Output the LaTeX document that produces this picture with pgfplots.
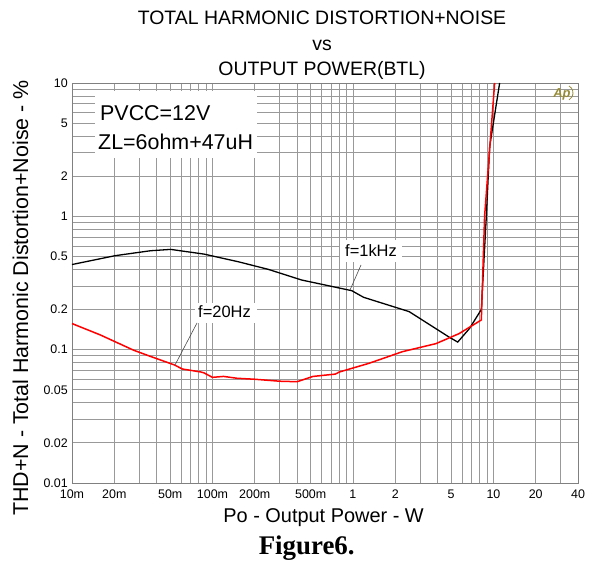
\documentclass[border=0pt]{standalone}
\usepackage{fontspec}
\setmainfont{Liberation Sans}
\newfontfamily\timesfont{Liberation Serif}
\usepackage{pgfplots}
\pgfplotsset{compat=1.18}
\definecolor{apolive}{RGB}{150,140,55}
\begin{document}
\begin{tikzpicture}[x=1bp,y=1bp]
\path[use as bounding box] (0,0) rectangle (595,562);
\begin{axis}[
  at={(72bp,79bp)}, anchor=south west,
  width=506bp, height=400bp, scale only axis,
  xmode=log, ymode=log,
  xmin=0.01, xmax=40, ymin=0.01, ymax=10,
  xtick={0.01,0.02,0.05,0.1,0.2,0.5,1,2,5,10,20,40},
  xticklabels={10m,20m,50m,100m,200m,500m,1,2,5,10,20,40},
  minor xtick={0.03,0.04,0.06,0.07,0.08,0.09,0.3,0.4,0.6,0.7,0.8,0.9,3,4,6,7,8,9,30},
  ytick={0.01,0.02,0.05,0.1,0.2,0.5,1,2,5,10},
  yticklabels={0.01,0.02,0.05,0.1,0.2,0.5,1,2,5,10},
  minor ytick={0.03,0.04,0.06,0.07,0.08,0.09,0.3,0.4,0.6,0.7,0.8,0.9,3,4,6,7,8,9},
  grid=both,
  major grid style={black!40, line width=0.8bp},
  minor grid style={black!40, line width=0.8bp},
  axis line style={black!50, line width=0.8bp},
  major tick length=0pt, minor tick length=0pt,
  tick label style={font=\fontsize{12.5}{14}\selectfont},
  xticklabel style={anchor=north, inner sep=0pt, yshift=-7bp},
  yticklabel style={anchor=east, inner sep=0pt, xshift=-4bp},
]
\addplot[black, line width=1.3bp] coordinates {
(0.01,0.435) (0.0203,0.507) (0.0362,0.552) (0.0504,0.565) (0.0869,0.521)
(0.152,0.457) (0.25,0.40) (0.431,0.333) (0.98,0.277) (1.19,0.247)
(2.51,0.193) (4.85,0.124) (5.57,0.114) (6.75,0.144) (8.2,0.2)
(8.9,1.0) (9.4,3.33) (11.07,10)
};
\addplot[red, line width=1.5bp] coordinates {
(0.01,0.157) (0.0159,0.129) (0.0275,0.099) (0.0362,0.089) (0.0533,0.077)
(0.0611,0.0716) (0.0827,0.068) (0.087,0.067) (0.1,0.062) (0.12,0.063)
(0.15,0.061) (0.2,0.060) (0.3,0.058) (0.4,0.0575) (0.52,0.063)
(0.75,0.0656) (0.8,0.068) (1.3,0.079) (2.25,0.0966) (3.9,0.111)
(5.7,0.132) (8.2,0.167) (8.65,1.0) (10.2,10)
};
\end{axis}
% titles
\node[anchor=base, inner sep=0, font=\fontsize{19.5}{22}\selectfont] at (322,537) {TOTAL HARMONIC DISTORTION+NOISE};
\node[anchor=base, inner sep=0, font=\fontsize{19.5}{22}\selectfont] at (322,511) {vs};
\node[anchor=base, inner sep=0, font=\fontsize{19.5}{22}\selectfont] at (322,486) {OUTPUT POWER(BTL)};
% axis labels
\node[anchor=base, inner sep=0, font=\fontsize{20}{22}\selectfont] at (323.6,39) {Po - Output Power - W};
\node[anchor=base, inner sep=0, rotate=90, font=\fontsize{21.5}{24}\selectfont] at (28,264) {THD+N - Total Harmonic Distortion+Noise - \%};
\node[anchor=base, inner sep=0, font=\fontsize{27}{30}\selectfont\timesfont\bfseries] at (306.7,7) {Figure6.};
% condition box
\fill[white] (95,404) rectangle (257,471);
\node[anchor=base west, inner sep=0, font=\fontsize{21.5}{24}\selectfont] at (100,441.3) {PVCC=12V};
\node[anchor=base west, inner sep=0, font=\fontsize{21.5}{24}\selectfont] at (98,412) {ZL=6ohm+47uH};
% curve labels
\fill[white] (340,300) rectangle (402,322);
\node[anchor=base west, inner sep=0, font=\fontsize{16.5}{19}\selectfont] at (345,305.3) {f=1kHz};
\draw[black!70, line width=0.6bp] (361,297) -- (350,272);
\fill[white] (195,239) rectangle (257,259);
\node[anchor=base west, inner sep=0, font=\fontsize{16.5}{19}\selectfont] at (198,244) {f=20Hz};
\draw[black!70, line width=0.6bp] (197,239) -- (175,197);
% logo
\node[inner sep=0, text=apolive, font=\fontsize{13}{14}\selectfont\itshape\bfseries] at (562,468) {Ap};
\draw[apolive, line width=0.8bp] (569,476) arc[start angle=60, end angle=-60, radius=8];
\end{tikzpicture}
\end{document}
